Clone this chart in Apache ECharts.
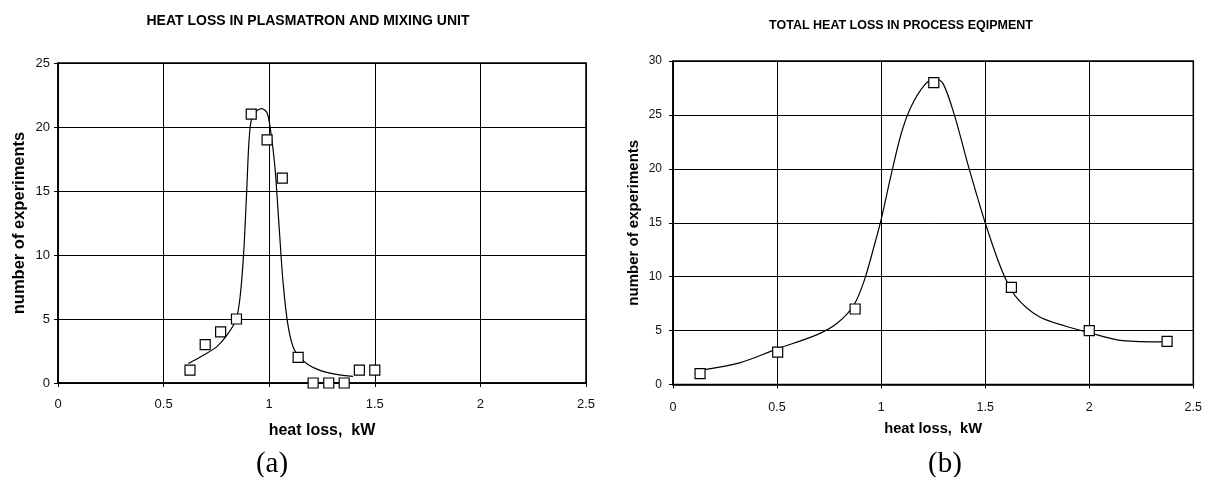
<!DOCTYPE html>
<html>
<head>
<meta charset="utf-8">
<script src="https://cdn.jsdelivr.net/npm/echarts@6/dist/echarts.min.js"></script>
<style>
  html, body { margin: 0; padding: 0; background: #fff; }
  #chart { width: 1205px; height: 477px; }
</style>
</head>
<body>
<div id="chart"></div>
<script>
/* (a) plasmatron + mixing unit: measured points */
var heatA = [0.625, 0.697, 0.77, 0.845, 0.915, 0.99, 1.062, 1.137, 1.208, 1.282, 1.355, 1.427, 1.5]
var countA = [1, 3, 4, 5, 21, 19, 16, 2, 0, 0, 0, 1, 1]
/* (a) fitted curve */
var fitXA = [0.617, 0.688, 0.751, 0.806, 0.845, 0.864, 0.88, 0.893, 0.904, 0.916, 0.94, 0.964, 0.99, 1.006, 1.027, 1.047, 1.066, 1.09, 1.12, 1.177, 1.24, 1.319, 1.397]
var fitYA = [1.52, 2.17, 2.82, 3.87, 5.05, 7.0, 10.4, 14.85, 18.8, 20.6, 21.25, 21.44, 21.1, 19.8, 16.9, 12.2, 7.8, 4.4, 2.56, 1.52, 0.99, 0.68, 0.52]

/* (b) total heat loss: measured points */
var heatB = [0.13, 0.503, 0.875, 1.253, 1.626, 2.0, 2.374]
var countB = [1, 3, 7, 28, 9, 5, 4]
/* (b) fitted curve */
var fitXB = [0.145, 0.32, 0.5, 0.69, 0.79, 0.87, 0.92, 0.97, 1.0, 1.05, 1.097, 1.145, 1.21, 1.258, 1.298, 1.355, 1.42, 1.5, 1.58, 1.645, 1.758, 1.887, 2.0, 2.16, 2.37]
var fitYB = [1.35, 2.0, 3.3, 4.6, 5.7, 7.4, 9.7, 13.1, 15.3, 19.6, 23.3, 25.8, 27.8, 28.4, 27.9, 24.8, 20.2, 15.0, 10.6, 8.2, 6.3, 5.4, 4.8, 4.07, 3.95]

var xTicks = [0, 0.5, 1, 1.5, 2, 2.5]

var FONT = '"Liberation Sans", Arial, sans-serif'

function pairs (xs, ys) {
  return xs.map(function (x, i) { return [x, ys[i]] })
}

function xAxisOf (idx, labelSize, labelMargin, nameSize, nameGap) {
  return {
    gridIndex: idx,
    type: 'value',
    min: xTicks[0],
    max: xTicks[xTicks.length - 1],
    interval: 0.5,
    name: 'heat loss,  kW',
    nameLocation: 'middle',
    nameGap: nameGap,
    nameTextStyle: { fontFamily: FONT, fontWeight: 'bold', fontSize: nameSize, color: '#000' },
    axisLine: { lineStyle: { color: '#000', width: 1.5 } },
    axisTick: { show: true, length: 4, lineStyle: { color: '#000' } },
    axisLabel: { fontFamily: FONT, fontSize: labelSize, color: '#111', margin: labelMargin },
    splitLine: { show: true, lineStyle: { color: '#000', width: 1 } }
  }
}

function yAxisOf (idx, max, labelSize, labelMargin, nameSize, nameGap) {
  return {
    gridIndex: idx,
    type: 'value',
    min: 0,
    max: max,
    interval: 5,
    name: 'number of experiments',
    nameLocation: 'middle',
    nameGap: nameGap,
    nameTextStyle: { fontFamily: FONT, fontWeight: 'bold', fontSize: nameSize, color: '#000' },
    axisLine: { show: true, lineStyle: { color: '#000', width: 1.5 } },
    axisTick: { show: true, length: 4, lineStyle: { color: '#000' } },
    axisLabel: { fontFamily: FONT, fontSize: labelSize, color: '#111', margin: labelMargin },
    splitLine: { show: true, lineStyle: { color: '#000', width: 1 } }
  }
}

function curve (idx, xs, ys) {
  return {
    type: 'line',
    xAxisIndex: idx,
    yAxisIndex: idx,
    data: pairs(xs, ys),
    smooth: 0.3,
    showSymbol: false,
    lineStyle: { color: '#000', width: 1.2 },
    z: 3
  }
}

function points (idx, xs, ys) {
  return {
    type: 'scatter',
    xAxisIndex: idx,
    yAxisIndex: idx,
    data: pairs(xs, ys),
    symbol: 'rect',
    symbolSize: 10,
    clip: false,
    itemStyle: { color: '#fff', borderColor: '#000', borderWidth: 1.2, opacity: 1 },
    z: 4
  }
}

var myChart = echarts.init(document.getElementById('chart'))
var options = {
  animation: false,
  backgroundColor: '#fff',
  title: [
    {
      text: 'HEAT LOSS IN PLASMATRON AND MIXING UNIT',
      left: 308, top: 14, textAlign: 'center', padding: 0,
      textStyle: { fontFamily: FONT, fontWeight: 'bold', fontSize: 14, color: '#000' }
    },
    {
      text: 'TOTAL HEAT LOSS IN PROCESS EQIPMENT',
      left: 901, top: 19, textAlign: 'center', padding: 0,
      textStyle: { fontFamily: FONT, fontWeight: 'bold', fontSize: 12.5, color: '#000' }
    }
  ],
  grid: [
    { left: 58, right: 619, top: 63, bottom: 94, show: true, borderColor: '#000', borderWidth: 1.5, containLabel: false },
    { left: 673, right: 7, top: 61, bottom: 92.5, show: true, borderColor: '#000', borderWidth: 1.5, containLabel: false }
  ],
  xAxis: [
    xAxisOf(0, 13, 15, 16, 40),
    xAxisOf(1, 12.5, 17, 14.7, 37)
  ],
  yAxis: [
    yAxisOf(0, 25, 13, 8, 16.5, 30),
    yAxisOf(1, 30, 12, 11, 15, 32)
  ],
  graphic: [
    { type: 'text', x: 272, y: 464, style: { text: '(a)', font: '29px "Liberation Serif", "Times New Roman", serif', fill: '#000', textAlign: 'center', textVerticalAlign: 'middle' } },
    { type: 'text', x: 945, y: 464, style: { text: '(b)', font: '29px "Liberation Serif", "Times New Roman", serif', fill: '#000', textAlign: 'center', textVerticalAlign: 'middle' } }
  ],
  series: [
    curve(0, fitXA, fitYA),
    points(0, heatA, countA),
    curve(1, fitXB, fitYB),
    points(1, heatB, countB)
  ]
}
myChart.setOption(options)
</script>
</body>
</html>
